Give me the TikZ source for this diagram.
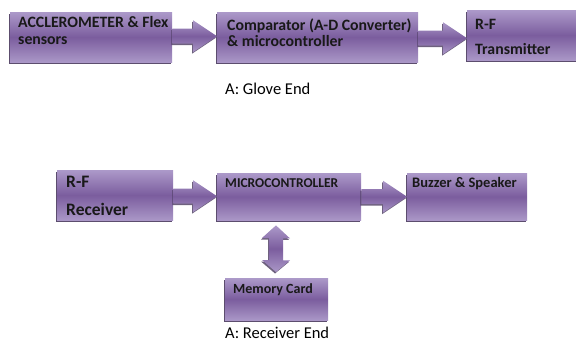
\documentclass[tikz,border=0pt]{standalone}
\usepackage{fontspec}
\setmainfont{Carlito}
\usetikzlibrary{shadows,calc}

\definecolor{lavtop}{HTML}{AC99C9}
\definecolor{lavmid}{HTML}{7B5D9E}
\definecolor{lavbot}{HTML}{AA97C7}
\definecolor{lavdark}{HTML}{4A3A5E}

\tikzset{
  blockbox/.style={rectangle, inner sep=0pt, anchor=north west,
    top color=lavtop, bottom color=lavbot, middle color=lavmid,
    drop shadow={shadow xshift=-1.2pt, shadow yshift=-1.8pt, fill=lavdark, opacity=0.9}},
  blockarrow/.style={top color=lavtop, bottom color=lavbot, middle color=lavmid,
    drop shadow={shadow xshift=-1pt, shadow yshift=-1.5pt, fill=lavdark, opacity=0.8}},
  boxtext/.style={anchor=base west, inner sep=0pt, text=black!90},
  caption/.style={anchor=base west, inner sep=0pt, font=\fontsize{16.5}{18}\selectfont}
}

% horizontal block arrow from #1 to #2, shifted #3 in y
\newcommand{\harrow}[3]{%
  \path[blockarrow] ($(#1.east)+(0,#3-7.5)$) -- ($(#2.west |- #1.east)+(-24,#3-7.5)$)
    -- ($(#2.west |- #1.east)+(-24,#3-16)$) -- ($(#2.west |- #1.east)+(0,#3)$)
    -- ($(#2.west |- #1.east)+(-24,#3+16)$) -- ($(#2.west |- #1.east)+(-24,#3+7.5)$)
    -- ($(#1.east)+(0,#3+7.5)$) -- cycle;}

\begin{document}
\begin{tikzpicture}[x=1pt,y=-1pt]
 \useasboundingbox (0,0) rectangle (576,345);

 % Glove end
 \node[blockbox, minimum width=162pt, minimum height=50pt] (accel) at (10,12) {};
 \node[blockbox, minimum width=201pt, minimum height=50pt] (comp) at (217,12) {};
 \node[blockbox, minimum width=120pt, minimum height=50pt] (trans) at (467,10) {};

 \harrow{accel}{comp}{-1}
 \harrow{comp}{trans}{1}

 \node[boxtext, font=\bfseries\fontsize{15.8}{18}\selectfont] (accelA) at ($(accel.north west)+(8,16)$) {ACCLEROMETER \& Flex};
 \node[boxtext, font=\bfseries\fontsize{15.8}{18}\selectfont] (accelB) at ($(accel.north west)+(8,33)$) {sensors};
 \node[boxtext, font=\bfseries\fontsize{15.8}{18}\selectfont] (compA) at ($(comp.north west)+(10,19)$) {Comparator (A-D Converter)};
 \node[boxtext, font=\bfseries\fontsize{15.8}{18}\selectfont] (compB) at ($(comp.north west)+(10,35)$) {\& microcontroller};
 \node[boxtext, font=\bfseries\fontsize{15.8}{18}\selectfont] (transA) at ($(trans.north west)+(8,20)$) {R-F};
 \node[boxtext, font=\bfseries\fontsize{15.8}{18}\selectfont] (transB) at ($(trans.north west)+(8,45)$) {Transmitter};

 \node[caption] (glove) at (225,95) {A: Glove End};

 % Receiver end
 \node[blockbox, minimum width=116pt, minimum height=50pt] (rfrx) at (57,170) {};
 \node[blockbox, minimum width=144pt, minimum height=47pt] (micro) at (217,173) {};
 \node[blockbox, minimum width=120pt, minimum height=47pt] (buzz) at (407,173) {};
 \node[blockbox, minimum width=103pt, minimum height=42pt] (mem) at (225,278) {};

 \harrow{rfrx}{micro}{1}
 \harrow{micro}{buzz}{0}

 % memory link
 \path[blockarrow] ($(micro.south -| 276,0)+(0,5)$) -- ++(14,13) -- ++(-7,0) -- ++(0,22)
   -- ++(7,0) -- ($(mem.north -| 276,0)+(0,-6)$) -- ++(-14,-12) -- ++(7,0) -- ++(0,-22)
   -- ++(-7,0) -- cycle;

 \node[boxtext, font=\bfseries\fontsize{17.5}{20}\selectfont] (rfA) at ($(rfrx.north west)+(9,17)$) {R-F};
 \node[boxtext, font=\bfseries\fontsize{17.5}{20}\selectfont] (rfB) at ($(rfrx.north west)+(9,45)$) {Receiver};
 \node[boxtext, font=\bfseries\fontsize{13.5}{15}\selectfont] (microA) at ($(micro.north west)+(8,14)$) {MICROCONTROLLER};
 \node[boxtext, font=\bfseries\fontsize{14.5}{16}\selectfont] (buzzA) at ($(buzz.north west)+(5,14)$) {Buzzer \& Speaker};
 \node[boxtext, font=\bfseries\fontsize{14}{16}\selectfont] (memA) at ($(mem.north west)+(8,15)$) {Memory Card};

 \node[caption] (rxend) at (225,338) {A: Receiver End};
\end{tikzpicture}
\end{document}
